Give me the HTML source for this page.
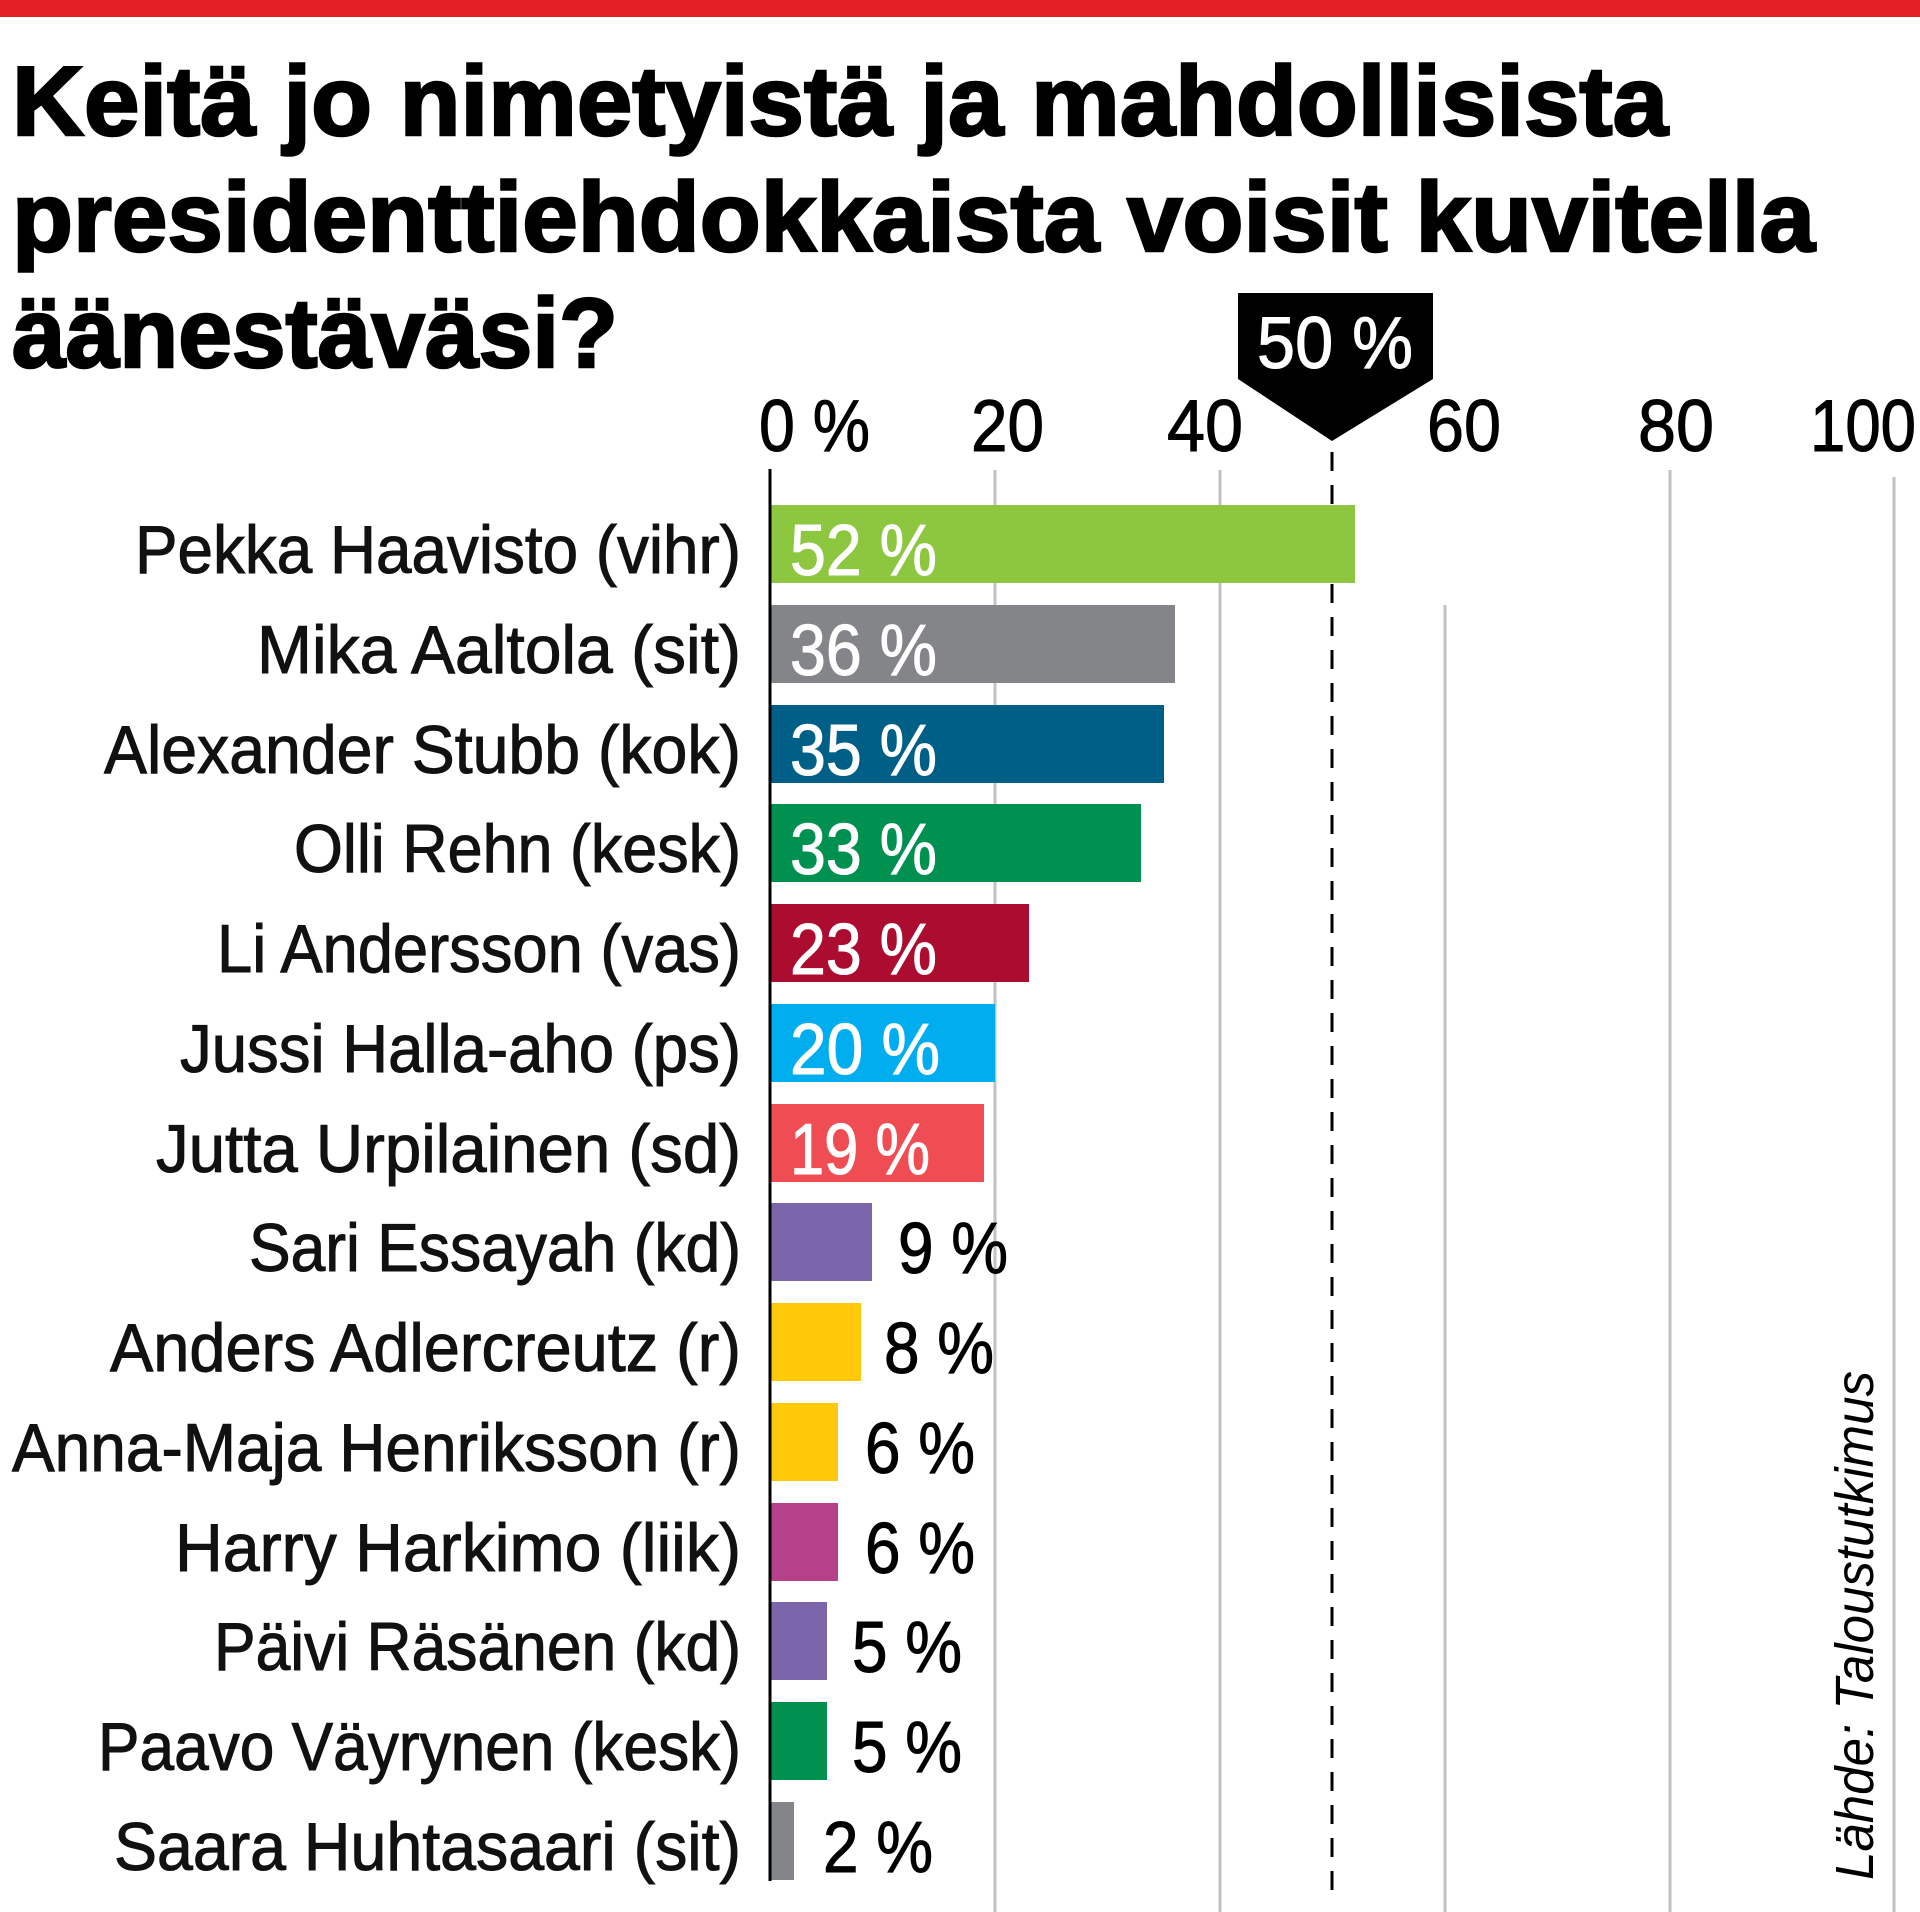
<!DOCTYPE html>
<html><head><meta charset="utf-8"><style>
html,body{margin:0;padding:0;background:#fff;}
svg{display:block}
text{font-family:"Liberation Sans Narrow","Liberation Sans",sans-serif;}
.t{font-weight:bold;font-size:98px;fill:#000;stroke:#000;stroke-width:2.5px}
.n{font-size:68px;fill:#111;stroke:#111;stroke-width:1px}
.v{font-size:72px}
.k{font-size:73px;fill:#000}
</style></head><body>
<svg width="1920" height="1912" viewBox="0 0 1920 1912" xmlns="http://www.w3.org/2000/svg">
<rect x="0" y="0" width="1920" height="17" fill="#e31e24"/>
<text class="t" x="12" y="135" textLength="1656" lengthAdjust="spacingAndGlyphs">Keitä jo nimetyistä ja mahdollisista</text>
<text class="t" x="12" y="251" textLength="1803" lengthAdjust="spacingAndGlyphs">presidenttiehdokkaista voisit kuvitella</text>
<text class="t" x="12" y="367" textLength="606" lengthAdjust="spacingAndGlyphs">äänestäväsi?</text>

<g stroke="#c2c2c6" stroke-width="3">
<line x1="995" y1="470" x2="995" y2="1912"/>
<line x1="1220" y1="470" x2="1220" y2="1912"/>
<line x1="1445" y1="605" x2="1445" y2="1912"/>
<line x1="1670" y1="470" x2="1670" y2="1912"/>
<line x1="1894" y1="477" x2="1894" y2="1912"/>
</g>
<line x1="1332" y1="452" x2="1332" y2="1892" stroke="#000" stroke-width="3" stroke-dasharray="19,14"/>

<polygon points="1238,293 1433,293 1433,379 1332,441 1238,379" fill="#000"/>
<text class="k" x="1257" y="368" style="fill:#fff;stroke:#fff;stroke-width:1px" textLength="156" lengthAdjust="spacingAndGlyphs">50 %</text>

<g style="stroke:#000;stroke-width:1px">
<text class="k" x="759" y="451" textLength="111" lengthAdjust="spacingAndGlyphs">0 %</text>
<text class="k" x="971" y="451" textLength="73" lengthAdjust="spacingAndGlyphs">20</text>
<text class="k" x="1167" y="451" textLength="76" lengthAdjust="spacingAndGlyphs">40</text>
<text class="k" x="1427" y="451" textLength="74" lengthAdjust="spacingAndGlyphs">60</text>
<text class="k" x="1638" y="451" textLength="76" lengthAdjust="spacingAndGlyphs">80</text>
<text class="k" x="1810" y="451" textLength="106" lengthAdjust="spacingAndGlyphs">100</text>
</g>

<g>
<rect x="771" y="505" width="584" height="78" fill="#8dc63f"/>
<rect x="771" y="605" width="404" height="78" fill="#848589"/>
<rect x="771" y="705" width="393" height="78" fill="#005f87"/>
<rect x="771" y="804" width="370" height="78" fill="#009150"/>
<rect x="771" y="904" width="258" height="78" fill="#ab0c2f"/>
<rect x="771" y="1004" width="224" height="78" fill="#00aeef"/>
<rect x="771" y="1104" width="213" height="78" fill="#ef4c53"/>
<rect x="771" y="1203" width="101" height="78" fill="#7b65ab"/>
<rect x="771" y="1303" width="90" height="78" fill="#ffc90a"/>
<rect x="771" y="1403" width="67" height="78" fill="#ffc90a"/>
<rect x="771" y="1503" width="67" height="78" fill="#b5418a"/>
<rect x="771" y="1602" width="56" height="78" fill="#7b65ab"/>
<rect x="771" y="1702" width="56" height="78" fill="#009150"/>
<rect x="771" y="1802" width="23" height="78" fill="#848589"/>
</g>
<line x1="770" y1="469" x2="770" y2="1881" stroke="#000" stroke-width="3"/>

<g class="v" fill="#fff" stroke="#fff" stroke-width="1">
<text x="790" y="575" textLength="147" lengthAdjust="spacingAndGlyphs">52 %</text>
<text x="790" y="675" textLength="147" lengthAdjust="spacingAndGlyphs">36 %</text>
<text x="790" y="775" textLength="147" lengthAdjust="spacingAndGlyphs">35 %</text>
<text x="790" y="874" textLength="147" lengthAdjust="spacingAndGlyphs">33 %</text>
<text x="790" y="974" textLength="147" lengthAdjust="spacingAndGlyphs">23 %</text>
<text x="790" y="1074" textLength="150" lengthAdjust="spacingAndGlyphs">20 %</text>
<text x="790" y="1174" textLength="140" lengthAdjust="spacingAndGlyphs">19 %</text>
</g>
<g class="v" fill="#000" stroke="#000" stroke-width="1">
<text x="898" y="1273" textLength="110" lengthAdjust="spacingAndGlyphs">9 %</text>
<text x="884" y="1373" textLength="110" lengthAdjust="spacingAndGlyphs">8 %</text>
<text x="865" y="1473" textLength="110" lengthAdjust="spacingAndGlyphs">6 %</text>
<text x="865" y="1573" textLength="110" lengthAdjust="spacingAndGlyphs">6 %</text>
<text x="852" y="1672" textLength="110" lengthAdjust="spacingAndGlyphs">5 %</text>
<text x="852" y="1772" textLength="110" lengthAdjust="spacingAndGlyphs">5 %</text>
<text x="823" y="1872" textLength="110" lengthAdjust="spacingAndGlyphs">2 %</text>
</g>

<g class="n">
<text x="135" y="573" textLength="606" lengthAdjust="spacingAndGlyphs">Pekka Haavisto (vihr)</text>
<text x="257" y="673" textLength="484" lengthAdjust="spacingAndGlyphs">Mika Aaltola (sit)</text>
<text x="104" y="773" textLength="637" lengthAdjust="spacingAndGlyphs">Alexander Stubb (kok)</text>
<text x="294" y="872" textLength="447" lengthAdjust="spacingAndGlyphs">Olli Rehn (kesk)</text>
<text x="217" y="972" textLength="524" lengthAdjust="spacingAndGlyphs">Li Andersson (vas)</text>
<text x="180" y="1072" textLength="561" lengthAdjust="spacingAndGlyphs">Jussi Halla-aho (ps)</text>
<text x="156" y="1172" textLength="585" lengthAdjust="spacingAndGlyphs">Jutta Urpilainen (sd)</text>
<text x="249" y="1271" textLength="492" lengthAdjust="spacingAndGlyphs">Sari Essayah (kd)</text>
<text x="110" y="1371" textLength="631" lengthAdjust="spacingAndGlyphs">Anders Adlercreutz (r)</text>
<text x="12" y="1471" textLength="729" lengthAdjust="spacingAndGlyphs">Anna-Maja Henriksson (r)</text>
<text x="175" y="1571" textLength="566" lengthAdjust="spacingAndGlyphs">Harry Harkimo (liik)</text>
<text x="214" y="1670" textLength="527" lengthAdjust="spacingAndGlyphs">Päivi Räsänen (kd)</text>
<text x="98" y="1770" textLength="643" lengthAdjust="spacingAndGlyphs">Paavo Väyrynen (kesk)</text>
<text x="114" y="1870" textLength="627" lengthAdjust="spacingAndGlyphs">Saara Huhtasaari (sit)</text>
</g>

<text x="0" y="0" transform="translate(1873,1880) rotate(-90)" style="font-family:'Liberation Sans',sans-serif;font-style:italic;font-size:54px" fill="#000" textLength="509" lengthAdjust="spacingAndGlyphs">Lähde: Taloustutkimus</text>
</svg>
</body></html>
